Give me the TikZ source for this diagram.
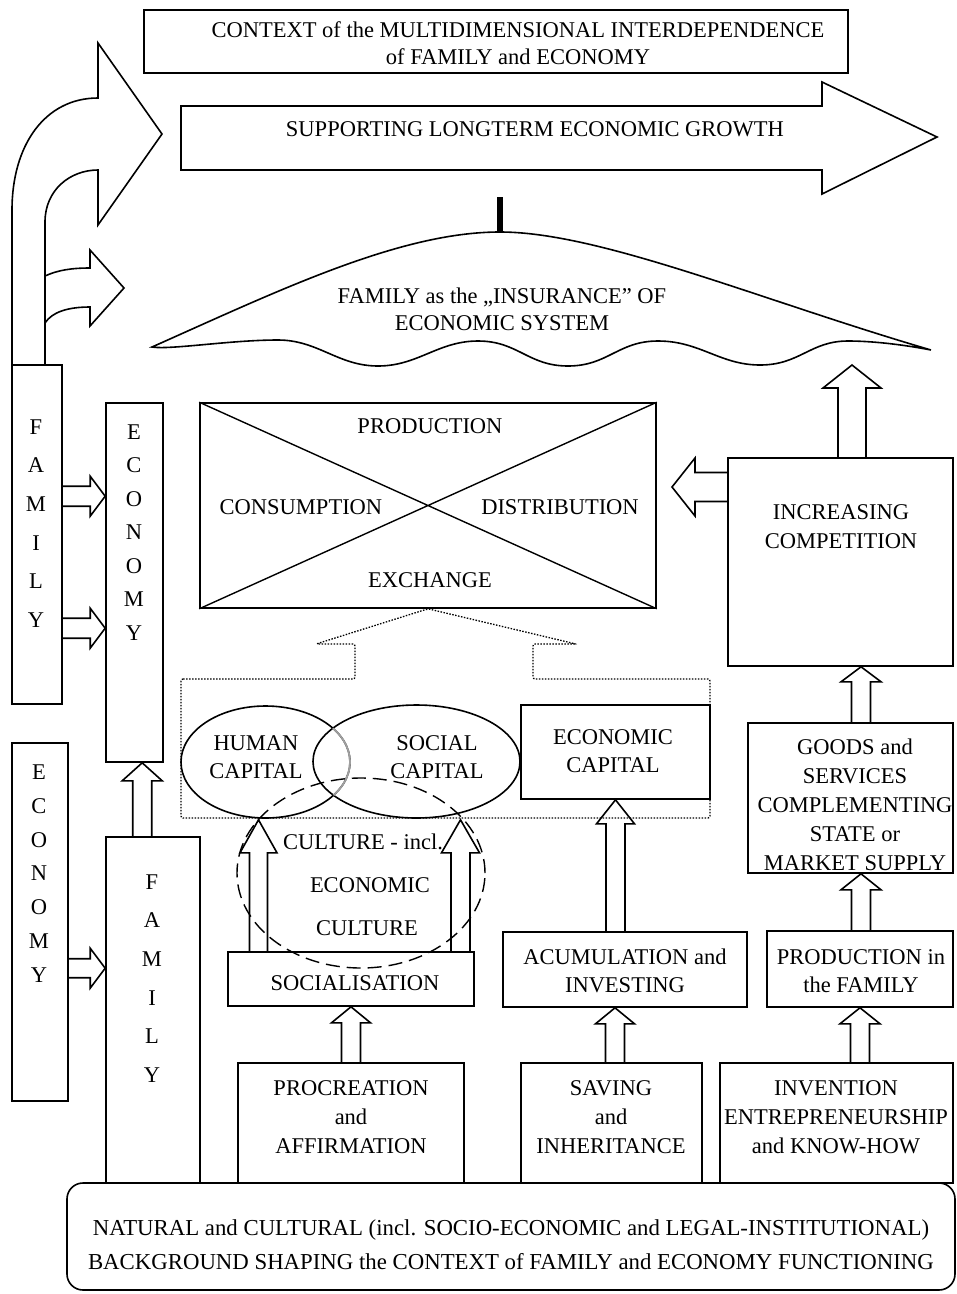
\documentclass[tikz,border=0pt]{standalone}
\usepackage{fontspec}
\setmainfont{Liberation Serif}
\usetikzlibrary{shapes.geometric,calc}
\newcommand\blkup[5]{\draw[blk] let \p1=#1, \p2=#2 in (\x1-#3pt,\y2) -- (\x1-#3pt,\y1-#5pt) -- (\x1-#4pt,\y1-#5pt) -- (\x1,\y1) -- (\x1+#4pt,\y1-#5pt) -- (\x1+#3pt,\y1-#5pt) -- (\x1+#3pt,\y2);}
\newcommand\blkright[5]{\draw[blk] let \p1=#1, \p2=#2 in (\x2,\y1+#3pt) -- (\x1-#5pt,\y1+#3pt) -- (\x1-#5pt,\y1+#4pt) -- (\x1,\y1) -- (\x1-#5pt,\y1-#4pt) -- (\x1-#5pt,\y1-#3pt) -- (\x2,\y1-#3pt);}
\newcommand\blkleft[5]{\draw[blk] let \p1=#1, \p2=#2 in (\x2,\y1+#3pt) -- (\x1+#5pt,\y1+#3pt) -- (\x1+#5pt,\y1+#4pt) -- (\x1,\y1) -- (\x1+#5pt,\y1-#4pt) -- (\x1+#5pt,\y1-#3pt) -- (\x2,\y1-#3pt);}
\tikzset{
  box/.style={draw, line width=1.6pt, inner sep=0pt, rectangle},
  ell/.style={draw, line width=1.6pt, inner sep=0pt, ellipse},
  blk/.style={draw, line width=1.6pt, line join=miter},
  txt/.style={align=center, inner sep=0pt, font=\fontsize{22.5}{29}\selectfont},
}
\begin{document}
\begin{tikzpicture}[x=1pt,y=-1pt]
\useasboundingbox (0,0) rectangle (957,1294);
% top context box
\node[box, minimum width=704pt, minimum height=63pt] (ctx) at (496,41.5) {};
\node[txt, font=\fontsize{22.5}{27}\selectfont] (ctxT) at (518,43.5) {CONTEXT of the MULTIDIMENSIONAL INTERDEPENDENCE\\of FAMILY and ECONOMY};
% supporting arrow
\draw[blk] (181,106) -- (822,106) -- (822,82) -- (937,137) -- (822,194) -- (822,170) -- (181,170) -- cycle;
\node[txt] (supT) at (535,129) {SUPPORTING LONGTERM ECONOMIC GROWTH};
% curved arrows on the left
\draw[blk] (12,365) -- (12,210) .. controls (12,145) and (45,98) .. (98,98) -- (98,43) -- (162,134) -- (98,225) -- (98,170) .. controls (70,170) and (45,190) .. (45,222) -- (45,365);
\draw[blk] (45,276) .. controls (58,270) and (72,268) .. (90,268) -- (90,250) -- (124,288) -- (90,326) -- (90,307) .. controls (68,307) and (52,312) .. (45,323);
% umbrella
\draw[line width=6pt] (500,197) -- (500,233);
\draw[blk] (152,347) .. controls (280,290) and (400,232) .. (500,232) .. controls (600,232) and (760,300) .. (931,350)
  .. controls (900,344) and (870,341) .. (848,341)
  .. controls (810,341) and (800,365) .. (760,365)
  .. controls (720,365) and (700,341) .. (658,341)
  .. controls (618,341) and (608,366) .. (568,366)
  .. controls (528,366) and (518,341) .. (478,341)
  .. controls (438,341) and (418,366) .. (378,366)
  .. controls (338,366) and (318,340) .. (278,340)
  .. controls (230,340) and (170,350) .. (152,347) -- cycle;
\node[txt, font=\fontsize{22.5}{27}\selectfont] (umbT) at (502,309) {FAMILY as the „INSURANCE” OF\\ECONOMIC SYSTEM};
\coordinate (umbR) at (852,365);
% family / economy columns
\node[box, minimum width=50pt, minimum height=339pt] (fam1) at (37,534.5) {};
\node[txt, font=\fontsize{22.5}{38.6}\selectfont] (fam1T) at (36,523.5) {F\\A\\M\\I\\L\\Y};
\node[box, minimum width=57pt, minimum height=359pt] (econ1) at (134.5,582.5) {};
\node[txt, font=\fontsize{22.5}{33.5}\selectfont] (econ1T) at (134,532.5) {E\\C\\O\\N\\O\\M\\Y};
\node[box, minimum width=56pt, minimum height=358pt] (econ2) at (40,922) {};
\node[txt, font=\fontsize{22.5}{33.8}\selectfont] (econ2T) at (39,873.5) {E\\C\\O\\N\\O\\M\\Y};
\node[box, minimum width=94pt, minimum height=346pt] (fam2) at (153,1010) {};
\node[txt, font=\fontsize{22.5}{38.6}\selectfont] (fam2T) at (152,978.5) {F\\A\\M\\I\\L\\Y};
\blkright{($(econ1.north west)+(0,94)$)}{(fam1.east)}{10}{20}{15}
\blkright{($(econ1.north west)+(0,226)$)}{(fam1.east)}{10}{20}{15}
\blkright{($(fam2.north west)+(0,132)$)}{(econ2.east)}{9.5}{20}{15}
\blkup{($(econ1.south west)+(37,0)$)}{(fam2.north)}{9.5}{20}{18}
% production box
\node[box, minimum width=456pt, minimum height=205pt] (prod) at (428,505.5) {};
\draw[line width=1.4pt] (prod.north west) -- (prod.south east) (prod.south west) -- (prod.north east);
\node[txt] (prodT) at (430,426) {PRODUCTION};
\node[txt] (consT) at (301,507) {CONSUMPTION};
\node[txt] (distT) at (560,507) {DISTRIBUTION};
\node[txt] (exchT) at (430,580) {EXCHANGE};
% competition
\node[box, minimum width=225pt, minimum height=208pt] (comp) at (840.5,562) {};
\node[txt] (compT) at (841,527) {INCREASING\\COMPETITION};
\coordinate (prodR) at (672,487);
\blkleft{(prodR)}{(comp.west)}{14.5}{29}{23}
\blkup{(umbR)}{(comp.north)}{14}{29}{23}
% goods
\node[box, minimum width=205pt, minimum height=150pt] (goods) at (850.5,798) {};
\node[txt] (goodsT) at (855,804.5) {GOODS and\\SERVICES\\COMPLEMENTING\\STATE or\\MARKET SUPPLY};
\blkup{($(comp.south)+(20.5,0)$)}{(goods.north)}{9.5}{20}{15}
\node[box, minimum width=186pt, minimum height=76pt] (pif) at (860,969) {};
\node[txt, font=\fontsize{22.5}{28}\selectfont] (pifT) at (861,971) {PRODUCTION in\\the FAMILY};
\blkup{($(goods.south)+(10.5,0)$)}{(pif.north)}{9.5}{20}{16}
\node[box, minimum width=233pt, minimum height=120pt] (inv) at (836.5,1123) {};
\node[txt] (invT) at (836,1117) {INVENTION\\ENTREPRENEURSHIP\\and KNOW-HOW};
\blkup{(pif.south)}{(inv.north)}{9.5}{20}{16}
% economic capital chain
\node[box, minimum width=189pt, minimum height=94pt] (ecap) at (615.5,752) {};
\node[txt, font=\fontsize{22.5}{28}\selectfont] (ecapT) at (613,751) {ECONOMIC\\CAPITAL};
\node[box, minimum width=244pt, minimum height=75pt] (acc) at (625,969.5) {};
\node[txt, font=\fontsize{22.5}{28}\selectfont] (accT) at (625,971) {ACUMULATION and\\INVESTING};
\blkup{(ecap.south)}{(acc.north)}{9.5}{19}{24}
\node[box, minimum width=181pt, minimum height=120pt] (sav) at (611.5,1123) {};
\node[txt] (savT) at (611,1117) {SAVING\\and\\INHERITANCE};
\blkup{($(acc.south)+(-10,0)$)}{(sav.north)}{9.5}{19.5}{16}
% procreation / socialisation
\node[box, minimum width=226pt, minimum height=120pt] (proc) at (351,1123) {};
\node[txt] (procT) at (351,1117) {PROCREATION\\and\\AFFIRMATION};
\node[box, minimum width=246pt, minimum height=54pt] (soc) at (351,979) {};
\node[txt] (socT) at (355,983) {SOCIALISATION};
\blkup{(soc.south)}{(proc.north)}{9.5}{19.5}{16}
% capitals
\node[ell, minimum width=169pt, minimum height=112pt] (human) at (265.5,762) {};
\node[ell, minimum width=207pt, minimum height=113pt] (social) at (416.5,761.5) {};
\begin{scope}
  \clip (416.5,761.5) ellipse [x radius=103.5, y radius=56.5];
  \draw[line width=1.8pt, gray!75] (265.5,762) ellipse [x radius=84.5, y radius=56];
\end{scope}
\node[txt, font=\fontsize{22.5}{28}\selectfont] (humT) at (256,757) {HUMAN\\CAPITAL};
\node[txt, font=\fontsize{22.5}{28}\selectfont] (socialT) at (437,757) {SOCIAL\\CAPITAL};
\draw[line width=1.3pt, dash pattern=on 1.5pt off 1.5pt, rounded corners=2pt]
  (181,679) -- (355,679) -- (355,644) -- (316,644) -- (prod.south) -- (576,644) -- (533,644) -- (533,679) -- (710,679) -- (710,818) -- (181,818) -- cycle;
\blkup{($(human.south)+(-7,1)$)}{(soc.north)}{9}{18.5}{33}
\blkup{($(social.south)+(44,1)$)}{(soc.north)}{9.5}{19}{33}
% culture
\node[draw, line width=1.4pt, dash pattern=on 14pt off 7pt, ellipse, inner sep=0pt, minimum width=248pt, minimum height=190pt] (cult) at (361,873) {};
\node[txt] (cult1) at (363,842) {CULTURE - incl.};
\node[txt] (cult2) at (370,885) {ECONOMIC};
\node[txt] (cult3) at (367,928) {CULTURE};
% bottom box
\node[box, rounded corners=16pt, minimum width=888pt, minimum height=107pt] (bot) at (511,1236.5) {};
\node[txt, font=\fontsize{22.8}{34}\selectfont] (botT) at (511,1245) {NATURAL and CULTURAL (incl. SOCIO-ECONOMIC and LEGAL-INSTITUTIONAL)\\BACKGROUND SHAPING the CONTEXT of FAMILY and ECONOMY FUNCTIONING};
\end{tikzpicture}
\end{document}
